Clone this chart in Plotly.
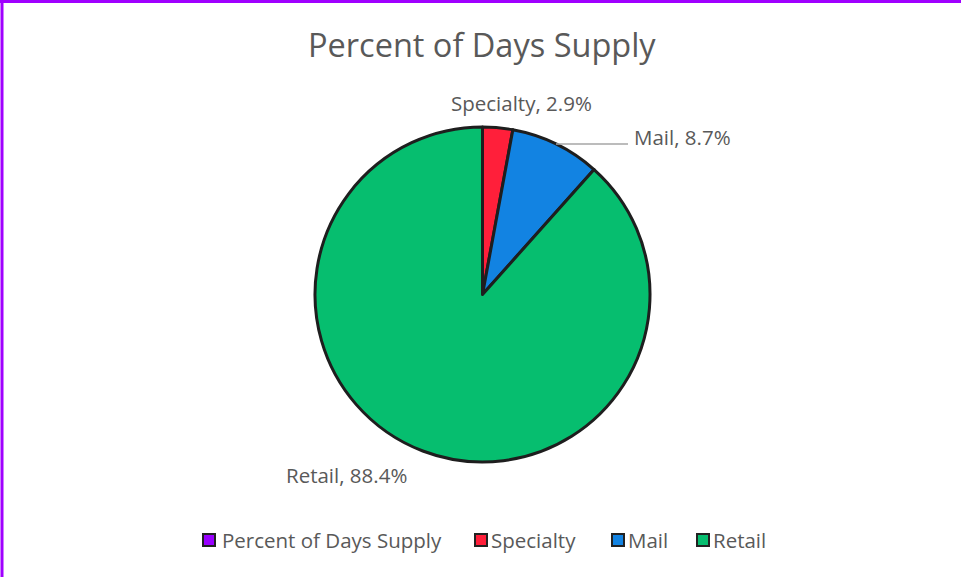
import plotly.graph_objects as go

# ---- data ----
series_name = "Percent of Days Supply"
categories = ["Specialty", "Mail", "Retail"]
values = [2.9, 8.7, 88.4]
slice_colors = ["#FF1F3A", "#1283E2", "#06BE6F"]
series_color = "#9900FF"

W, H = 961, 577
FONT = "Open Sans"
GRAY = "#595959"

def px(x):
    return x / W

def py(y):
    return 1 - y / H

fig = go.Figure()

cx, cy, r = 482.5, 294.5, 167.5
fig.add_trace(go.Pie(
    labels=categories,
    values=values,
    sort=False,
    direction="clockwise",
    rotation=0,
    marker=dict(colors=slice_colors, line=dict(color="#1E1E1E", width=3)),
    textinfo="none",
    hoverinfo="label+percent",
    showlegend=False,
    domain=dict(x=[px(cx - r), px(cx + r)], y=[py(cy + r), py(cy - r)]),
))

annotations = []
shapes = []

# title
annotations.append(dict(text=series_name, x=px(482), y=py(44), xref="paper", yref="paper",
                        showarrow=False, xanchor="center", yanchor="middle",
                        font=dict(family=FONT, size=32.5, color=GRAY)))

# data labels
label_pos = {
    "Specialty": (521, 103, "center"),
    "Mail": (632, 137, "left"),
    "Retail": (346, 475, "center"),
}
for cat, val in zip(categories, values):
    x, y, anc = label_pos[cat]
    annotations.append(dict(text=f"{cat}, {val:.1f}%", x=px(x), y=py(y), xref="paper", yref="paper",
                            showarrow=False, xanchor=anc, yanchor="middle",
                            font=dict(family=FONT, size=20.5, color=GRAY)))
# leader line for Mail
shapes.append(dict(type="line", xref="paper", yref="paper", x0=px(556), y0=py(144), x1=px(628), y1=py(144),
                   line=dict(color="#A6A6A6", width=1.3)))

# legend (manual)
legend_names = [series_name] + categories
legend_colors = [series_color] + slice_colors
legend_x = [209, 481, 618, 703]
legend_tx = [220, 489, 626, 711]
ly = 540
for name, col, lx, tx in zip(legend_names, legend_colors, legend_x, legend_tx):
    shapes.append(dict(type="rect", xref="paper", yref="paper",
                       x0=px(lx - 6), x1=px(lx + 6), y0=py(ly + 6), y1=py(ly - 6),
                       fillcolor=col, line=dict(color="#222222", width=2)))
    annotations.append(dict(text=name, x=px(tx), y=py(ly), xref="paper", yref="paper",
                            showarrow=False, xanchor="left", yanchor="middle",
                            font=dict(family=FONT, size=20.5, color=GRAY)))

# chart border (top and left visible)
shapes.append(dict(type="line", xref="paper", yref="paper", x0=0, x1=1, y0=py(1.5), y1=py(1.5),
                   line=dict(color="#A000FF", width=3)))
shapes.append(dict(type="line", xref="paper", yref="paper", x0=px(2), x1=px(2), y0=0, y1=1,
                   line=dict(color="#A000FF", width=3)))

fig.update_layout(
    width=W, height=H,
    margin=dict(l=0, r=0, t=0, b=0),
    paper_bgcolor="white",
    plot_bgcolor="white",
    annotations=annotations,
    shapes=shapes,
    showlegend=False,
)

fig.write_html("out.html", config={"displayModeBar": False},
               post_script="document.body.style.margin='0';document.body.style.overflow='hidden';")
